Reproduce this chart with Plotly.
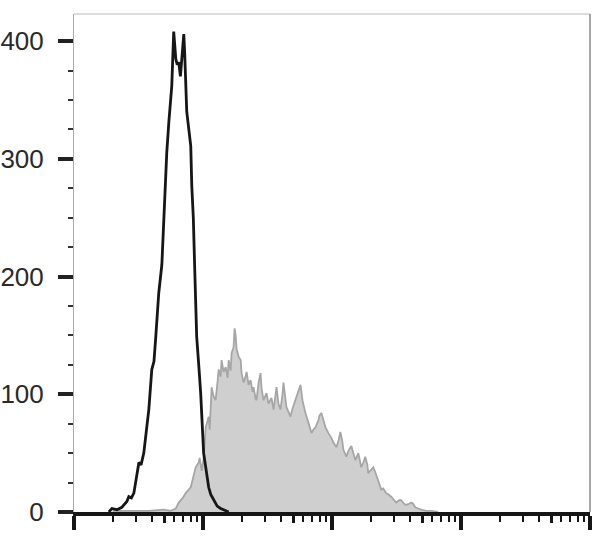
import plotly.graph_objects as go

# Fluorescence intensity in log10 units (decades) and event counts
control_log = [1.27, 1.294, 1.333, 1.371, 1.387, 1.410, 1.425, 1.445, 1.464, 1.480, 1.503, 1.520,
               1.541, 1.560, 1.580, 1.603, 1.620, 1.634, 1.657, 1.681, 1.697, 1.712, 1.719, 1.735,
               1.750, 1.758, 1.773, 1.781, 1.789, 1.800, 1.812, 1.825, 1.835, 1.851, 1.858, 1.866,
               1.874, 1.890, 1.905, 1.913, 1.925, 1.936, 1.951, 1.967, 1.982, 2.005, 2.025, 2.044,
               2.060, 2.083, 2.110, 2.137, 2.176, 2.199]
control_cnt = [0, 3, 2, 4, 6, 9, 13, 12, 16, 28, 42, 40,
               50, 68, 87, 121, 128, 149, 186, 210, 250, 291, 305, 331,
               350, 362, 408, 395, 385, 380, 382, 370, 387, 406, 390, 362,
               340, 325, 311, 277, 250, 206, 149, 125, 101, 50, 35, 21,
               15, 10, 5, 3, 1, 0]

stained_log = [1.300, 1.450, 1.580, 1.696, 1.750, 1.789, 1.812, 1.843, 1.866, 1.905, 1.928, 1.943,
               1.967, 1.974, 1.990, 2.005, 2.021, 2.044, 2.052, 2.067, 2.083, 2.098, 2.114, 2.121,
               2.137, 2.144, 2.160, 2.176, 2.191, 2.199, 2.214, 2.222, 2.237, 2.245, 2.253, 2.261,
               2.276, 2.292, 2.299, 2.315, 2.330, 2.338, 2.353, 2.369, 2.384, 2.392, 2.408, 2.415,
               2.431, 2.446, 2.454, 2.469, 2.485, 2.492, 2.508, 2.523, 2.531, 2.547, 2.562, 2.570,
               2.585, 2.601, 2.616, 2.624, 2.640, 2.647, 2.663, 2.678, 2.694, 2.717, 2.732, 2.748,
               2.756, 2.771, 2.779, 2.794, 2.817, 2.833, 2.841, 2.856, 2.872, 2.895, 2.903, 2.918,
               2.933, 2.949, 2.972, 2.995, 3.011, 3.034, 3.049, 3.065, 3.080, 3.088, 3.111, 3.127,
               3.150, 3.165, 3.181, 3.204, 3.220, 3.227, 3.243, 3.258, 3.274, 3.281, 3.304, 3.320,
               3.335, 3.359, 3.382, 3.397, 3.420, 3.436, 3.459, 3.482, 3.498, 3.521, 3.536, 3.559,
               3.575, 3.598, 3.614, 3.629, 3.645, 3.668, 3.691, 3.730, 3.769, 3.823]
stained_cnt = [1, 1, 1, 2, 1, 3, 8, 12, 16, 21, 30, 38,
               42, 46, 35, 45, 72, 81, 70, 106, 98, 95, 112, 121,
               115, 129, 119, 123, 114, 129, 120, 135, 140, 156, 150, 138,
               132, 129, 118, 110, 115, 119, 108, 112, 102, 106, 96, 95,
               110, 118, 105, 95, 99, 101, 92, 95, 97, 87, 98, 106,
               92, 87, 100, 110, 95, 89, 85, 81, 88, 95, 100, 106,
               108, 95, 90, 84, 76, 70, 67, 70, 72, 78, 82, 84,
               78, 72, 67, 63, 59, 55, 60, 68, 60, 53, 47, 52,
               56, 50, 44, 50, 43, 38, 42, 47, 40, 33, 36, 38,
               34, 27, 19, 20, 16, 15, 13, 10, 8, 10, 10, 7,
               6, 7, 8, 7, 4, 3, 2, 1, 1, 0]

y_major = [0, 100, 200, 300, 400]
y_labels = ["0", "100", "200", "300", "400"]
decades = [1, 2, 3, 4, 5]

x_major = [10 ** d for d in decades]
x_mid = [5 * 10 ** d for d in decades[:-1]]
x_minor = [k * 10 ** d for d in decades[:-1] for k in (2, 3, 4, 6, 7, 8, 9)]

fig = go.Figure()
fig.add_trace(go.Scatter(
    x=[10 ** v for v in stained_log], y=stained_cnt, mode="lines",
    fill="tozeroy", fillcolor="#cfcfcf",
    line=dict(color="#a6a6a6", width=1.8), hoverinfo="skip", showlegend=False))
fig.add_trace(go.Scatter(
    x=[10 ** v for v in control_log], y=control_cnt, mode="lines",
    line=dict(color="#161616", width=2.8), hoverinfo="skip", showlegend=False))
# invisible trace to hold the mid-tick overlay axis
fig.add_trace(go.Scatter(x=[x_mid[0]], y=[0], xaxis="x2", mode="markers",
                         marker=dict(opacity=0), hoverinfo="skip", showlegend=False))

fig.update_layout(
    width=608, height=545,
    margin=dict(l=74, r=18, t=14, b=33),
    paper_bgcolor="white", plot_bgcolor="white",
    font=dict(family="Arial, Liberation Sans, sans-serif", size=26, color="#2a2a2a"),
    xaxis=dict(type="log", range=[1, 5], showgrid=False, zeroline=False, automargin=False,
               showline=True, linecolor="#161616", linewidth=4,
               tickmode="array", tickvals=x_major, ticks="outside",
               ticklen=14, tickwidth=4, tickcolor="#161616", showticklabels=False,
               minor=dict(tickmode="array", tickvals=x_minor, ticks="outside",
                          ticklen=6, tickwidth=2, tickcolor="#161616")),
    xaxis2=dict(type="log", range=[1, 5], overlaying="x", anchor="y", side="bottom",
                showgrid=False, zeroline=False, showline=False, automargin=False,
                tickmode="array", tickvals=x_mid, ticks="outside",
                ticklen=10, tickwidth=3, tickcolor="#161616", showticklabels=False),
    yaxis=dict(range=[0, 423], showgrid=False, zeroline=False, automargin=False,
               showline=True, linecolor="#aaaaaa", linewidth=1,
               tickmode="array", tickvals=y_major, ticktext=y_labels, ticks="outside",
               ticklen=15, tickwidth=3.5, tickcolor="#222222", ticklabelstandoff=9,
               minor=dict(dtick=25, ticks="outside", ticklen=5, tickwidth=2,
                          tickcolor="#333333")),
    shapes=[
        dict(type="line", xref="paper", yref="paper", x0=0, x1=1, y0=1, y1=1,
             line=dict(color="#d2d2d2", width=1.5)),
        dict(type="line", xref="paper", yref="paper", x0=1, x1=1, y0=0, y1=1,
             line=dict(color="#8a8a8a", width=1.5)),
    ],
)

# remove the browser's default 8px page margin so the figure sits at the window corner
fig.write_html("out.html", config={"displayModeBar": False},
               post_script="document.body.style.margin='0';")
